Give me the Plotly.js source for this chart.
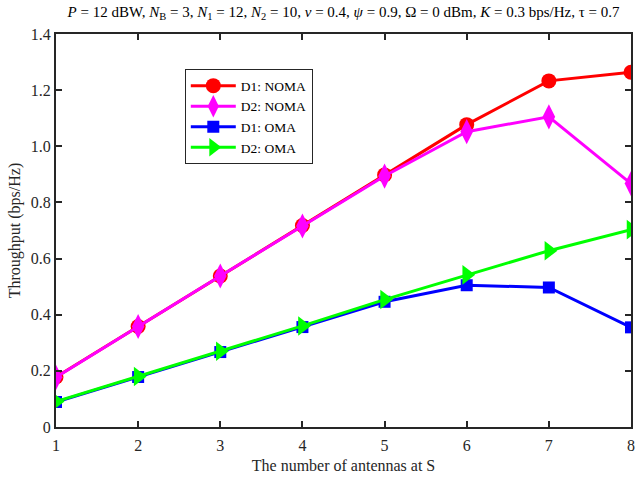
<!DOCTYPE html>
<html>
<head>
<meta charset="utf-8">
<script src="https://cdn.plot.ly/plotly-3.0.1.min.js"></script>
<style>
  html, body { margin: 0; padding: 0; background: #fff; }
  #chart { width: 638px; height: 479px; }
</style>
</head>
<body>
<div id="chart"></div>
<script>
// Number of antennas at the source S
const antennas = [1, 2, 3, 4, 5, 6, 7, 8];

// Throughput (bps/Hz) of each user under NOMA and OMA
const d1Noma = [0.178, 0.358, 0.538, 0.718, 0.898, 1.077, 1.233, 1.264];
const d2Noma = [0.177, 0.358, 0.538, 0.716, 0.894, 1.052, 1.105, 0.867];
const d1Oma  = [0.089, 0.178, 0.267, 0.356, 0.446, 0.505, 0.497, 0.355];
const d2Oma  = [0.091, 0.180, 0.270, 0.360, 0.454, 0.542, 0.628, 0.703];

const yTickVals = [0, 0.2, 0.4, 0.6, 0.8, 1.0, 1.2, 1.4];
const yTickText = ['0', '0.2', '0.4', '0.6', '0.8', '1.0', '1.2', '1.4'];

const serif = 'Liberation Serif, Times New Roman, serif';

function series(name, y, color, symbol, size) {
  return {
    x: antennas, y: y, name: name, type: 'scatter', mode: 'lines+markers',
    line: { color: color, width: 3 },
    marker: { color: color, symbol: symbol, size: size, line: { width: 0 } }
  };
}

const traces = [
  series('D1: NOMA', d1Noma, '#ff0000', 'circle', 15),
  series('D2: NOMA', d2Noma, '#ff00ff', 'diamond-tall', 18),
  series('D1: OMA',  d1Oma,  '#0000ff', 'square', 12),
  series('D2: OMA',  d2Oma,  '#00ff00', 'triangle-right', 17)
];

const axisCommon = {
  showline: true, linecolor: '#262626', linewidth: 2, mirror: 'ticks',
  ticks: 'inside', ticklen: 6, tickwidth: 2, tickcolor: '#262626',
  showgrid: false, zeroline: false,
  tickfont: { family: serif, size: 16, color: '#262626' }
};

const layout = {
  width: 638, height: 479,
  margin: { l: 56, r: 7, t: 34, b: 52 },
  paper_bgcolor: '#fff', plot_bgcolor: '#fff',
  title: {
    text: '<i>P</i> = 12 dBW, <i>N</i><sub>B</sub> = 3, <i>N</i><sub>1</sub> = 12, <i>N</i><sub>2</sub> = 10, <i>v</i> = 0.4, <i>ψ</i> = 0.9, Ω = 0 dBm, <i>K</i> = 0.3 bps/Hz, τ = 0.7',
    font: { family: serif, size: 15, color: '#000' },
    x: 0.5, xanchor: 'center', xref: 'paper', y: 0.975, yanchor: 'middle'
  },
  xaxis: Object.assign({}, axisCommon, {
    range: [1, 8], tickvals: antennas, ticktext: antennas.map(String),
    ticklabelstandoff: 3,
    title: { text: 'The number of antennas at S', font: { family: serif, size: 16, color: '#262626' }, standoff: 7 }
  }),
  yaxis: Object.assign({}, axisCommon, {
    range: [0, 1.4], tickvals: yTickVals, ticktext: yTickText,
    title: { text: 'Throughput (bps/Hz)', font: { family: serif, size: 16, color: '#262626' }, standoff: 6 }
  }),
  legend: {
    x: 0.224, y: 0.91, xanchor: 'left', yanchor: 'top',
    bgcolor: '#fff', bordercolor: '#262626', borderwidth: 1,
    font: { family: serif, size: 13.5, color: '#000' },
    tracegroupgap: 0, itemwidth: 45
  },
  showlegend: true
};

Plotly.newPlot('chart', traces, layout, { staticPlot: true, displayModeBar: false });
</script>
</body>
</html>
